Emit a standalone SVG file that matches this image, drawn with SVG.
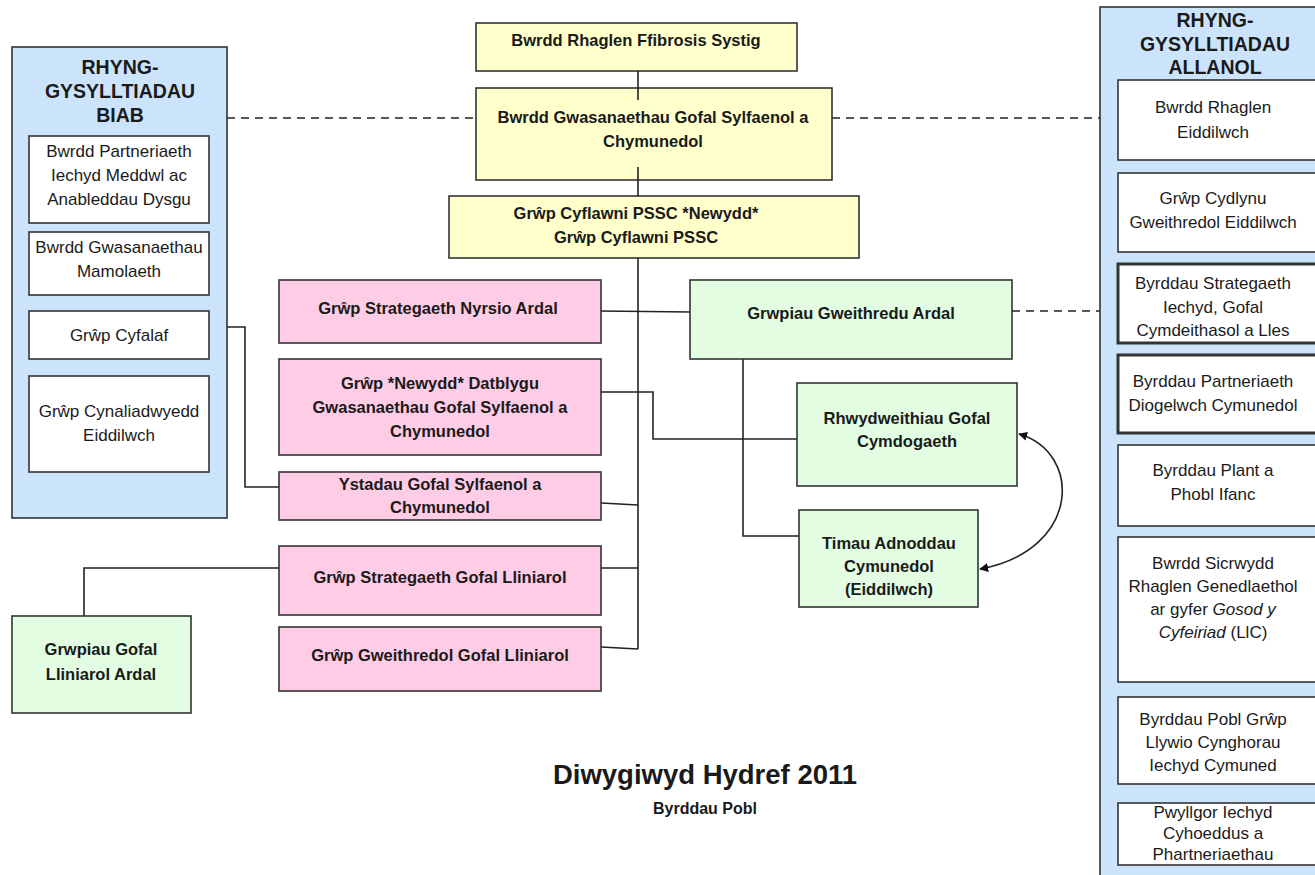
<svg xmlns="http://www.w3.org/2000/svg" width="1315" height="875" viewBox="0 0 1315 875">
<style>
text{font-family:"Liberation Sans",Arial,sans-serif;fill:#1a1a1a;text-anchor:middle}
.t{font-size:17px}
.b{font-size:16.5px;font-weight:bold}
.h{font-size:19.5px;font-weight:bold}
.box{stroke:#333;stroke-width:1.6}
.w{fill:#fff}
.y{fill:#ffffcc}
.p{fill:#ffcce6}
.g{fill:#e2fde2}
.panel{fill:#cce4fb;stroke:#333;stroke-width:1.6}
.thick{stroke-width:3}
.ln{fill:none;stroke:#222;stroke-width:1.6}
.dash{fill:none;stroke:#222;stroke-width:1.6;stroke-dasharray:8 6}
</style>
<defs>
<marker id="ah" viewBox="0 0 10 10" refX="9" refY="5" markerWidth="9" markerHeight="9" markerUnits="userSpaceOnUse" orient="auto-start-reverse">
<path d="M0,0 L10,5 L0,10 z" fill="#111"/>
</marker>
</defs>
<rect width="1315" height="875" fill="#fff"/>

<g id="connectors">
<line class="dash" x1="227" y1="118" x2="476" y2="118"/>
<line class="dash" x1="832" y1="118" x2="1100" y2="118"/>
<line class="dash" x1="1012" y1="311" x2="1100" y2="311"/>
<path class="ln" d="M638,258 V649"/>
<path class="ln" d="M601,311 L690,312"/>
<path class="ln" d="M601,392 H653 V439 H797"/>
<path class="ln" d="M601,503 L638,505"/>
<path class="ln" d="M209,327 H245 V487 H279"/>
<path class="ln" d="M743,359 V536 H799"/>
<path class="ln" d="M601,568 H638"/>
<path class="ln" d="M279,568 H84 V616"/>
<path class="ln" d="M601,647 L638,649"/>
<path class="ln" d="M1019,434 C1082,452 1082,550 980,569" marker-start="url(#ah)" marker-end="url(#ah)"/>
</g>

<g id="panel-biab">
<rect class="panel" x="12" y="47" width="215" height="471"/>
<text class="h" x="120" y="74">RHYNG-</text>
<text class="h" x="120" y="98">GYSYLLTIADAU</text>
<text class="h" x="120" y="122">BIAB</text>
</g>
<g id="biab-1"><rect class="box w" x="29" y="136" width="180" height="87"/>
<text class="t" x="119" y="157">Bwrdd Partneriaeth</text><text class="t" x="119" y="181">Iechyd Meddwl ac</text><text class="t" x="119" y="205">Anableddau Dysgu</text></g>
<g id="biab-2"><rect class="box w" x="29" y="232" width="180" height="63"/>
<text class="t" x="119" y="253">Bwrdd Gwasanaethau</text><text class="t" x="119" y="277">Mamolaeth</text></g>
<g id="biab-3"><rect class="box w" x="29" y="311" width="180" height="48"/>
<text class="t" x="119" y="341">Grŵp Cyfalaf</text></g>
<g id="biab-4"><rect class="box w" x="29" y="376" width="180" height="96"/>
<text class="t" x="119" y="417">Grŵp Cynaliadwyedd</text><text class="t" x="119" y="441">Eiddilwch</text></g>

<g id="panel-allanol">
<rect class="panel" x="1100" y="7" width="240" height="880"/>
<text class="h" x="1215" y="27">RHYNG-</text>
<text class="h" x="1215" y="51">GYSYLLTIADAU</text>
<text class="h" x="1215" y="74">ALLANOL</text>
</g>
<g id="ext-1"><rect class="box w" x="1118" y="80" width="220" height="80"/>
<text class="t" x="1213" y="113">Bwrdd Rhaglen</text><text class="t" x="1213" y="138">Eiddilwch</text></g>
<g id="ext-2"><rect class="box w" x="1118" y="173" width="220" height="79"/>
<text class="t" x="1213" y="204">Grŵp Cydlynu</text><text class="t" x="1213" y="228">Gweithredol Eiddilwch</text></g>
<g id="ext-3"><rect class="box w thick" x="1118" y="264" width="220" height="79"/>
<text class="t" x="1213" y="289">Byrddau Strategaeth</text><text class="t" x="1213" y="313">Iechyd, Gofal</text><text class="t" x="1213" y="336">Cymdeithasol a Lles</text></g>
<g id="ext-4"><rect class="box w thick" x="1118" y="355" width="220" height="78"/>
<text class="t" x="1213" y="387">Byrddau Partneriaeth</text><text class="t" x="1213" y="411">Diogelwch Cymunedol</text></g>
<g id="ext-5"><rect class="box w" x="1118" y="445" width="220" height="81"/>
<text class="t" x="1213" y="476">Byrddau Plant a</text><text class="t" x="1213" y="500">Phobl Ifanc</text></g>
<g id="ext-6"><rect class="box w" x="1118" y="537" width="220" height="145"/>
<text class="t" x="1213" y="569">Bwrdd Sicrwydd</text><text class="t" x="1213" y="592">Rhaglen Genedlaethol</text><text class="t" x="1213" y="615">ar gyfer <tspan font-style="italic">Gosod y</tspan></text><text class="t" x="1213" y="638"><tspan font-style="italic">Cyfeiriad</tspan> (LlC)</text></g>
<g id="ext-7"><rect class="box w" x="1118" y="697" width="220" height="87"/>
<text class="t" x="1213" y="725">Byrddau Pobl Grŵp</text><text class="t" x="1213" y="748">Llywio Cynghorau</text><text class="t" x="1213" y="771">Iechyd Cymuned</text></g>
<g id="ext-8"><rect class="box w" x="1118" y="803" width="220" height="62"/>
<text class="t" x="1213" y="818">Pwyllgor Iechyd</text><text class="t" x="1213" y="839">Cyhoeddus a</text><text class="t" x="1213" y="860">Phartneriaethau</text></g>

<g id="ffibrosis"><rect class="box y" x="476" y="23" width="321" height="48"/>
<text class="b" x="636" y="46">Bwrdd Rhaglen Ffibrosis Systig</text></g>
<g id="bwrdd-gwasanaethau"><rect class="box y" x="476" y="88" width="356" height="92"/>
<text class="b" x="653" y="123">Bwrdd Gwasanaethau Gofal Sylfaenol a</text><text class="b" x="653" y="147">Chymunedol</text></g>
<g id="pssc"><rect class="box y" x="449" y="196" width="410" height="62"/>
<text class="b" x="636" y="219">Grŵp Cyflawni PSSC *Newydd*</text><text class="b" x="636" y="243">Grŵp Cyflawni PSSC</text></g>
<path class="ln" d="M638,71 V100 M638,167 V196"/>

<g id="nyrsio"><rect class="box p" x="279" y="280" width="322" height="63"/>
<text class="b" x="438" y="314">Grŵp Strategaeth Nyrsio Ardal</text></g>
<g id="datblygu"><rect class="box p" x="279" y="359" width="322" height="96"/>
<text class="b" x="440" y="389">Grŵp *Newydd* Datblygu</text><text class="b" x="440" y="413">Gwasanaethau Gofal Sylfaenol a</text><text class="b" x="440" y="437">Chymunedol</text></g>
<g id="ystadau"><rect class="box p" x="279" y="472" width="322" height="48"/>
<text class="b" x="440" y="490">Ystadau Gofal Sylfaenol a</text><text class="b" x="440" y="513">Chymunedol</text></g>
<g id="strategaeth-lliniarol"><rect class="box p" x="279" y="546" width="322" height="69"/>
<text class="b" x="440" y="583">Grŵp Strategaeth Gofal Lliniarol</text></g>
<g id="gweithredol-lliniarol"><rect class="box p" x="279" y="627" width="322" height="64"/>
<text class="b" x="440" y="661">Grŵp Gweithredol Gofal Lliniarol</text></g>

<g id="gweithredu-ardal"><rect class="box g" x="690" y="280" width="322" height="79"/>
<text class="b" x="851" y="319">Grwpiau Gweithredu Ardal</text></g>
<g id="rhwydweithiau"><rect class="box g" x="797" y="383" width="220" height="103"/>
<text class="b" x="907" y="424">Rhwydweithiau Gofal</text><text class="b" x="907" y="447">Cymdogaeth</text></g>
<g id="timau"><rect class="box g" x="799" y="510" width="179" height="97"/>
<text class="b" x="889" y="549">Timau Adnoddau</text><text class="b" x="889" y="572">Cymunedol</text><text class="b" x="889" y="595">(Eiddilwch)</text></g>
<g id="lliniarol-ardal"><rect class="box g" x="12" y="616" width="179" height="97"/>
<text class="b" x="101" y="655">Grwpiau Gofal</text><text class="b" x="101" y="680">Lliniarol Ardal</text></g>

<g id="footer">
<text x="705" y="784" style="font-size:27.5px;font-weight:bold">Diwygiwyd Hydref 2011</text>
<text x="705" y="814" style="font-size:16px;font-weight:bold">Byrddau Pobl</text>
</g>
</svg>
